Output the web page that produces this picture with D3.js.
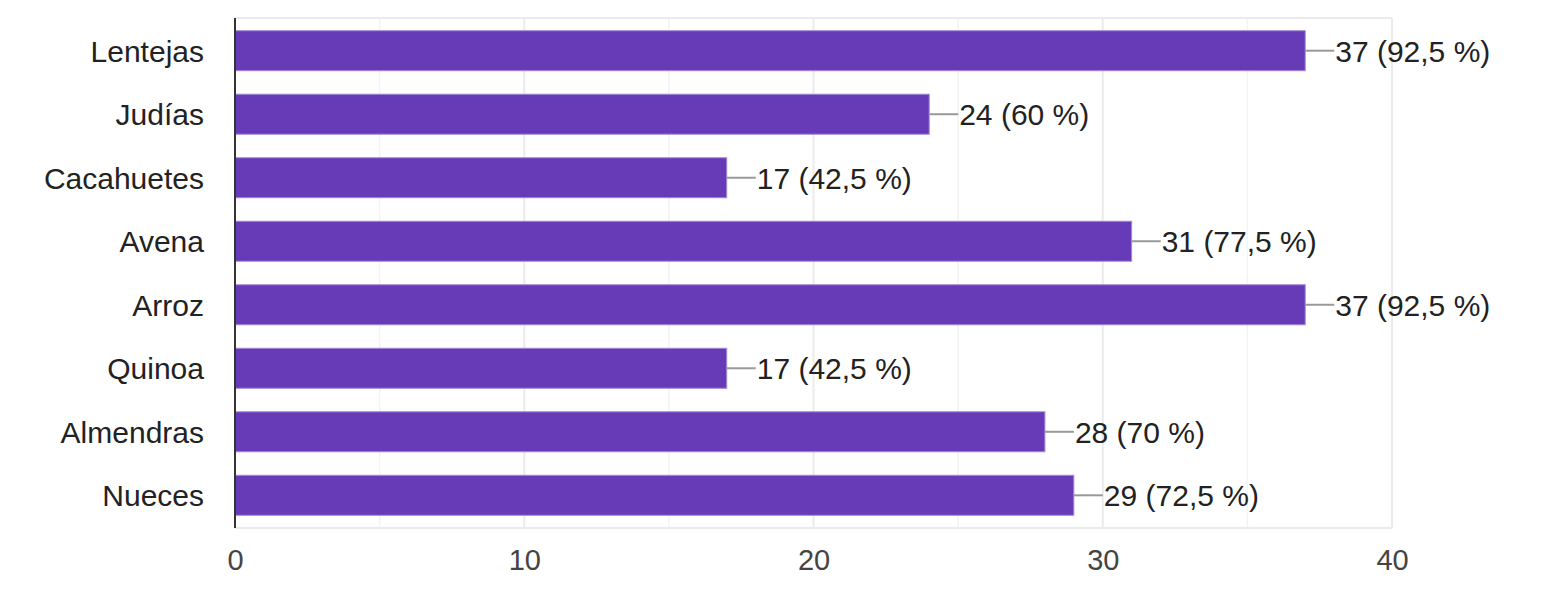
<!DOCTYPE html>
<html>
<head>
<meta charset="utf-8">
<script src="https://cdn.jsdelivr.net/npm/d3@7"></script>
<style>
  body { margin: 0; background: #fff; }
  text { font-family: "Liberation Sans", Arial, sans-serif; }
</style>
</head>
<body>
<div id="chart"></div>
<script>
// data
var categories = ["Lentejas", "Judías", "Cacahuetes", "Avena", "Arroz", "Quinoa", "Almendras", "Nueces"];
var counts = [37, 24, 17, 31, 37, 17, 28, 29];
var labels = ["37 (92,5 %)", "24 (60 %)", "17 (42,5 %)", "31 (77,5 %)", "37 (92,5 %)", "17 (42,5 %)", "28 (70 %)", "29 (72,5 %)"];
var ticks = [0, 10, 20, 30, 40];
var minorTicks = [5, 15, 25, 35];

var data = categories.map(function(c, i) { return {cat: c, value: counts[i], label: labels[i]}; });

// dimensions
var W = 1549, H = 590;
var margin = {top: 18, right: 157, bottom: 62, left: 235},
    width = W - margin.left - margin.right,
    height = H - margin.top - margin.bottom;

var svg = d3.select("#chart")
  .append("svg")
    .attr("width", W)
    .attr("height", H)
  .append("g")
    .attr("transform", "translate(" + margin.left + "," + margin.top + ")");

var x = d3.scaleLinear().domain([0, 40]).range([0, width]);
var y = d3.scaleBand().domain(categories).range([0, height]).paddingInner(0.37).paddingOuter(0.2);

// minor gridlines
svg.selectAll(".minor")
  .data(minorTicks)
  .enter().append("line")
    .attr("x1", function(d) { return x(d); })
    .attr("x2", function(d) { return x(d); })
    .attr("y1", 0).attr("y2", height)
    .attr("stroke", "#f3f3f3").attr("stroke-width", 1.5);

// major gridlines
svg.selectAll(".major")
  .data(ticks.slice(1))
  .enter().append("line")
    .attr("x1", function(d) { return x(d); })
    .attr("x2", function(d) { return x(d); })
    .attr("y1", 0).attr("y2", height)
    .attr("stroke", "#ebebeb").attr("stroke-width", 2);

// top and bottom frame
svg.append("line").attr("x1", 0).attr("x2", width).attr("y1", 0).attr("y2", 0)
  .attr("stroke", "#ebebeb").attr("stroke-width", 2);
svg.append("line").attr("x1", 0).attr("x2", width).attr("y1", height).attr("y2", height)
  .attr("stroke", "#ebebeb").attr("stroke-width", 2);

// bars
svg.selectAll("rect.bar")
  .data(data)
  .enter().append("rect")
    .attr("class", "bar")
    .attr("x", x(0))
    .attr("y", function(d) { return y(d.cat); })
    .attr("width", function(d) { return x(d.value) - x(0); })
    .attr("height", y.bandwidth())
    .attr("fill", "#673ab7")
    .attr("stroke", "#a58bd6")
    .attr("stroke-width", 1);

// leader lines
svg.selectAll("line.lead")
  .data(data)
  .enter().append("line")
    .attr("class", "lead")
    .attr("x1", function(d) { return x(d.value); })
    .attr("x2", function(d) { return x(d.value) + 29; })
    .attr("y1", function(d) { return y(d.cat) + y.bandwidth() / 2; })
    .attr("y2", function(d) { return y(d.cat) + y.bandwidth() / 2; })
    .attr("stroke", "#999").attr("stroke-width", 2);

// value labels
svg.selectAll("text.val")
  .data(data)
  .enter().append("text")
    .attr("class", "val")
    .attr("x", function(d) { return x(d.value) + 30; })
    .attr("y", function(d) { return y(d.cat) + y.bandwidth() / 2; })
    .attr("dy", "0.36em")
    .attr("font-size", 30)
    .attr("fill", "#222")
    .text(function(d) { return d.label; });

// y axis
var yAxis = svg.append("g")
  .call(d3.axisLeft(y).tickSize(0).tickPadding(31));
yAxis.select(".domain").remove();
yAxis.selectAll("text").attr("font-size", 30).attr("fill", "#222").attr("dy", "0.36em");
svg.append("line").attr("x1", 0).attr("x2", 0).attr("y1", 0).attr("y2", height)
  .attr("stroke", "#333").attr("stroke-width", 2);

// x axis
var xAxis = svg.append("g")
  .attr("transform", "translate(0," + height + ")")
  .call(d3.axisBottom(x).tickValues(ticks).tickSize(0).tickPadding(21));
xAxis.select(".domain").remove();
xAxis.selectAll("text").attr("font-size", 29).attr("fill", "#444");
</script>
</body>
</html>
